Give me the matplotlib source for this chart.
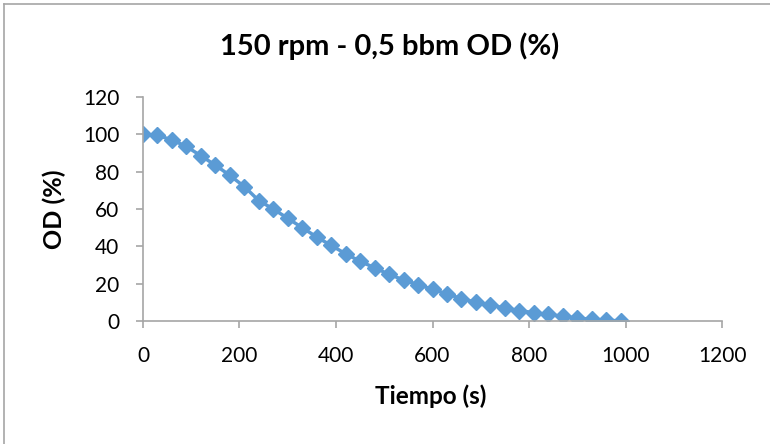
import matplotlib.pyplot as plt
from matplotlib.lines import Line2D

plt.rcParams['font.family'] = ['Lato', 'DejaVu Sans']

tiempo = [0, 30, 60, 90, 120, 150, 180, 210, 240, 270, 300, 330, 360, 390, 420,
          450, 480, 510, 540, 570, 600, 630, 660, 690, 720, 750, 780, 810, 840,
          870, 900, 930, 960, 990]
od = [100, 99.5, 97, 93.5, 88.5, 83.5, 78, 72, 64.5, 60, 55, 50, 45, 40.5, 36,
      32, 28.5, 25, 22, 19.5, 17, 14.5, 12, 10, 8.5, 7, 5.5, 4.5, 3.5, 2.5,
      1.5, 1, 0.5, 0]

fig = plt.figure(figsize=(7.7, 4.44), dpi=100)
ax = fig.add_axes([0.1857, 0.277, 0.752, 0.5045])

# outer chart frame, only top and left edges show (image is cropped)
fx, fy = 3.5 / 770, 1 - 4 / 444
fig.lines.append(Line2D([fx, fx], [0, fy], transform=fig.transFigure,
                        color='#a6a6a6', linewidth=1.2))
fig.lines.append(Line2D([fx, 1], [fy, fy], transform=fig.transFigure,
                        color='#a6a6a6', linewidth=1.2))

ax.plot(tiempo, od, color='#5B9BD5', linewidth=2.5, marker='D', markersize=8)

ax.set_xlim(0, 1200)
ax.set_ylim(0, 120)
ax.set_xticks(range(0, 1201, 200))
ax.set_yticks(range(0, 121, 20))

for s in ['top', 'right']:
    ax.spines[s].set_visible(False)
for s in ['left', 'bottom']:
    ax.spines[s].set_color('#a6a6a6')
    ax.spines[s].set_linewidth(1.2)
ax.tick_params(direction='out', length=5, color='#a6a6a6', width=1.2,
               labelsize=15)
ax.tick_params(axis='y', pad=12)
ax.tick_params(axis='x', pad=13)

# title and axis labels placed like the spreadsheet chart
fig.text(390 / 770, 1 - 46 / 444, '150 rpm - 0,5 bbm OD (%)', fontsize=21,
         fontweight='bold', ha='center', va='center')
fig.text(431 / 770, 1 - 396 / 444, 'Tiempo (s)', fontsize=17.5,
         fontweight='bold', ha='center', va='center')
fig.text(54 / 770, 1 - 209 / 444, 'OD (%)', fontsize=18, fontweight='bold',
         ha='center', va='center', rotation=90)

fig.savefig('out.png', dpi=100)
